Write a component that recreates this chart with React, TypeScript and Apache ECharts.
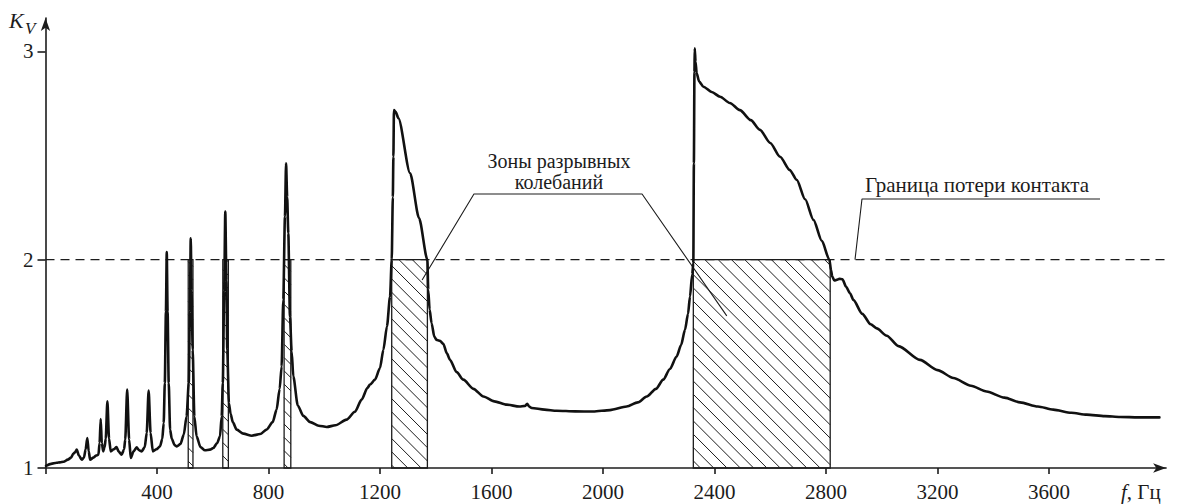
import { useEffect, useRef } from "react";
import * as echarts from "echarts";

// Frequency response K_V(f) of the vibrating contact
const curveHz = [
  2, 20, 40, 52, 65, 80, 92, 100, 106, 112, 120, 130, 138, 144, 150, 155, 160, 172, 182, 190,
  194, 198, 202, 207, 212, 216, 222, 228, 234, 245, 255, 262, 273, 282, 286, 293, 300, 306, 316, 327,
  336, 345, 356, 363, 370, 377, 385, 398, 411, 419, 424, 428, 432, 435, 438, 442, 447, 453, 463, 471,
  484, 496, 506, 514, 518, 521, 524, 528, 534, 542, 556, 572, 590, 602, 616, 626, 632, 636, 641, 645,
  649, 652, 658, 664, 672, 686, 710, 740, 770, 793, 815, 829, 840, 847, 853, 859, 863, 867, 871, 877,
  883, 889, 905, 925, 950, 980, 1009, 1040, 1080, 1110, 1134, 1155, 1164, 1182, 1200, 1212, 1225, 1236, 1242, 1246,
  1248, 1250, 1256, 1266, 1308, 1340, 1370, 1373, 1378, 1385, 1395, 1403, 1415, 1427, 1440, 1451, 1475, 1499, 1535, 1571,
  1610, 1655, 1700, 1720, 1728, 1735, 1744, 1790, 1834, 1900, 1965, 2025, 2085, 2125, 2157, 2190, 2216, 2240, 2264, 2280,
  2294, 2305, 2312, 2320, 2324, 2326, 2328, 2329, 2332, 2336, 2345, 2360, 2390, 2420, 2455, 2491, 2530, 2563, 2600, 2635,
  2670, 2695, 2725, 2755, 2785, 2812, 2818, 2822, 2830, 2838, 2848, 2859, 2872, 2886, 2898, 2930, 2960, 2982, 3018, 3060,
  3137, 3200, 3257, 3320, 3376, 3440, 3496, 3560, 3615, 3680, 3735, 3800, 3855, 3920, 3996,
];
const curveKv = [
  1.01, 1.02, 1.025, 1.027, 1.03, 1.04, 1.05, 1.069, 1.075, 1.088, 1.06, 1.04, 1.05, 1.09, 1.144, 1.08, 1.04, 1.05, 1.06, 1.064,
  1.12, 1.235, 1.12, 1.08, 1.1, 1.14, 1.32, 1.14, 1.08, 1.09, 1.1, 1.08, 1.064, 1.09, 1.136, 1.376, 1.136, 1.048, 1.08, 1.099,
  1.085, 1.08, 1.1, 1.168, 1.372, 1.168, 1.08, 1.09, 1.104, 1.14, 1.216, 1.408, 1.75, 2.036, 1.75, 1.408, 1.184, 1.14, 1.11, 1.104,
  1.115, 1.16, 1.247, 1.408, 1.75, 2.103, 1.85, 1.567, 1.247, 1.152, 1.1, 1.085, 1.088, 1.096, 1.12, 1.152, 1.247, 1.408, 1.85, 2.231,
  1.9, 1.567, 1.312, 1.26, 1.22, 1.184, 1.165, 1.155, 1.163, 1.184, 1.22, 1.28, 1.38, 1.487, 1.807, 2.207, 2.463, 2.3, 2.127, 1.727,
  1.56, 1.44, 1.3, 1.25, 1.22, 1.203, 1.197, 1.205, 1.232, 1.27, 1.328, 1.385, 1.4, 1.424, 1.48, 1.567, 1.68, 1.823, 2.0, 2.3,
  2.494, 2.718, 2.71, 2.679, 2.415, 2.2, 2.0, 1.855, 1.76, 1.695, 1.63, 1.615, 1.61, 1.596, 1.55, 1.519, 1.46, 1.424, 1.38, 1.343,
  1.32, 1.304, 1.295, 1.298, 1.308, 1.295, 1.288, 1.28, 1.275, 1.272, 1.271, 1.278, 1.295, 1.315, 1.343, 1.38, 1.424, 1.475, 1.535, 1.59,
  1.663, 1.74, 1.823, 1.93, 1.983, 2.463, 2.9, 3.014, 2.95, 2.894, 2.855, 2.83, 2.805, 2.782, 2.752, 2.718, 2.67, 2.623, 2.56, 2.494,
  2.43, 2.383, 2.29, 2.191, 2.09, 2.0, 1.95, 1.92, 1.9, 1.903, 1.908, 1.906, 1.87, 1.839, 1.807, 1.74, 1.69, 1.67, 1.635, 1.585,
  1.519, 1.47, 1.432, 1.395, 1.367, 1.338, 1.315, 1.295, 1.28, 1.265, 1.256, 1.249, 1.245, 1.243, 1.243,
];

// Zones of discontinuous oscillation (K_V above the contact-loss limit)
const zoneStartHz = [512, 636, 856, 1242, 2324];
const zoneEndHz = [529, 656, 880, 1370, 2815];
const contactLimit = 2;
const baseLevel = 1;

// Axis ticks
const xTickValues = [0, 400, 800, 1200, 1600, 2000, 2400, 2800, 3200, 3600];
const xLabelValues = [400, 800, 1200, 1600, 2000, 2400, 2800, 3200, 3600];
const yTickValues = [1, 2, 3];

// Leader lines of the annotations, in chart coordinates
const zonesLeaderHz = [1351, 1537, 2140, 2444];
const zonesLeaderKv = [1.902, 2.315, 2.315, 1.73];
const limitLeaderHz = [2904, 2929, 3783];
const limitLeaderKv = [2.0, 2.291, 2.291];

const FAMILY = "Liberation Serif";
const INK = "#1c1c1c";

export default function App() {
  const ref = useRef<HTMLDivElement>(null);

  useEffect(() => {
    if (!ref.current) return;
    const chart = echarts.init(ref.current, null, { renderer: "svg" });

    const curve = curveHz.map((f, i) => [f, curveKv[i]]);
    const zones = zoneStartHz.map((s, i) => [s, zoneEndHz[i], baseLevel, contactLimit]);
    const zonesLeader = zonesLeaderHz.map((f, i) => [f, zonesLeaderKv[i]]);
    const limitLeader = limitLeaderHz.map((f, i) => [f, limitLeaderKv[i]]);

    // Rectangle with diagonal hatching for each zone
    const hatch = (params: any, api: any) => {
      const tl = api.coord([api.value(0), api.value(3)]);
      const br = api.coord([api.value(1), api.value(2)]);
      const left = tl[0];
      const top = tl[1];
      const right = br[0];
      const bottom = br[1];
      const h = bottom - top;
      const step = 13.3;
      const children: any[] = [];
      for (let c = Math.floor((left - h) / step) * step; c < right; c += step) {
        let xs = c;
        let ys = top;
        let xe = c + h;
        let ye = bottom;
        if (xs < left) {
          ys += left - xs;
          xs = left;
        }
        if (xe > right) {
          ye -= xe - right;
          xe = right;
        }
        if (xe <= xs) continue;
        children.push({
          type: "line",
          shape: { x1: xs, y1: ys, x2: xe, y2: ye },
          style: { stroke: INK, lineWidth: 1 },
        });
      }
      children.push({
        type: "rect",
        shape: { x: left, y: top, width: right - left, height: h },
        style: { fill: "none", stroke: INK, lineWidth: 1.3 },
      });
      return { type: "group", children };
    };

    const labelStyle = {
      color: INK,
      fontFamily: FAMILY,
      fontSize: 21,
      formatter: (v: number) => String(v),
    };

    chart.setOption({
      animation: false,
      backgroundColor: "#ffffff",
      textStyle: { fontFamily: FAMILY },
      grid: { left: 45.5, right: 11.9, top: 18, bottom: 36, outerBoundsMode: "none" },
      xAxis: {
        type: "value",
        min: 0,
        max: 4020,
        interval: 400,
        axisLine: {
          show: true,
          lineStyle: { color: INK, width: 1.6 },
          symbol: ["none", "arrow"],
          symbolSize: [7, 13],
        },
        axisTick: {
          show: true,
          length: 6,
          customValues: xTickValues,
          lineStyle: { color: INK, width: 1.6 },
        },
        axisLabel: { show: true, customValues: xLabelValues, margin: 13, ...labelStyle },
        splitLine: { show: false },
      },
      yAxis: {
        type: "value",
        min: 1,
        max: 3.16,
        interval: 1,
        axisLine: {
          show: true,
          lineStyle: { color: INK, width: 1.6 },
          symbol: ["none", "arrow"],
          symbolSize: [7, 13],
        },
        axisTick: {
          show: true,
          length: 8,
          customValues: yTickValues,
          lineStyle: { color: INK, width: 1.6 },
        },
        axisLabel: { show: true, customValues: yTickValues, margin: 12, ...labelStyle },
        splitLine: { show: false },
      },
      series: [
        {
          name: "zones",
          type: "custom",
          renderItem: hatch,
          data: zones,
          encode: { x: [0, 1], y: [2, 3] },
          z: 1,
          silent: true,
        },
        {
          name: "limit",
          type: "line",
          data: [
            [0, contactLimit],
            [4015, contactLimit],
          ],
          symbol: "none",
          lineStyle: { color: INK, width: 1.2, type: [9, 6] },
          z: 2,
          silent: true,
        },
        {
          name: "zonesLeader",
          type: "line",
          data: zonesLeader,
          symbol: "none",
          lineStyle: { color: INK, width: 1.1 },
          z: 3,
          silent: true,
        },
        {
          name: "limitLeader",
          type: "line",
          data: limitLeader,
          symbol: "none",
          lineStyle: { color: INK, width: 1.1 },
          z: 3,
          silent: true,
        },
        {
          name: "Kv",
          type: "line",
          data: curve,
          symbol: "none",
          smooth: 0.25,
          smoothMonotone: "x",
          lineStyle: { color: "#111", width: 2.6, join: "round", cap: "round" },
          z: 4,
          silent: true,
        },
      ],
      graphic: [
        {
          type: "text",
          x: 9,
          y: 9,
          style: { text: "K", fontFamily: FAMILY, fontStyle: "italic", fontSize: 22, fill: INK },
        },
        {
          type: "text",
          x: 25,
          y: 20,
          style: { text: "V", fontFamily: FAMILY, fontStyle: "italic", fontSize: 17, fill: INK },
        },
        {
          type: "text",
          x: 1121,
          y: 481,
          style: {
            text: "{i|f}, Гц",
            fontFamily: FAMILY,
            fontSize: 21,
            fill: INK,
            rich: { i: { fontStyle: "italic", fontFamily: FAMILY, fontSize: 21, color: INK } },
          },
        },
        {
          type: "text",
          x: 559,
          y: 150,
          style: {
            text: "Зоны разрывных\nколебаний",
            fontFamily: FAMILY,
            fontSize: 20,
            lineHeight: 21,
            align: "center",
            fill: INK,
          },
        },
        {
          type: "text",
          x: 977,
          y: 174,
          style: {
            text: "Граница потери контакта",
            fontFamily: FAMILY,
            fontSize: 21,
            align: "center",
            fill: INK,
          },
        },
      ],
    });

    return () => chart.dispose();
  }, []);

  return (
    <div
      ref={ref}
      style={{ position: "absolute", left: 0, top: 0, width: 1178, height: 504, background: "#fff" }}
    />
  );
}
